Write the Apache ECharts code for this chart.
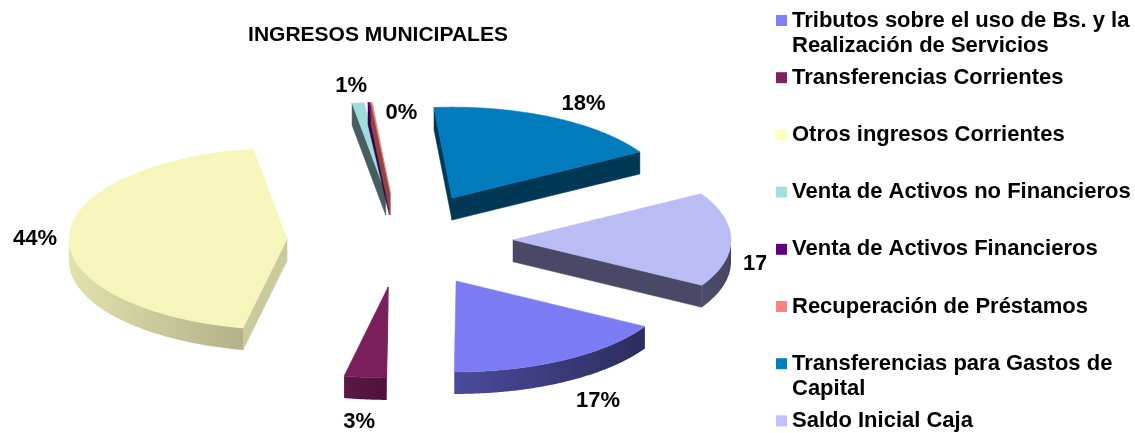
<!DOCTYPE html>
<html>
<head>
<meta charset="utf-8">
<script src="https://cdn.jsdelivr.net/npm/echarts@6/dist/echarts.min.js"></script>
<style>
html,body{margin:0;padding:0;background:#fff;}
#c{width:1135px;height:433px;}
</style>
</head>
<body>
<div id="c"></div>
<script>
// ---------- data ----------
const chartTitle = 'INGRESOS MUNICIPALES';
const categories = [
  'Tributos sobre el uso de Bs. y la Realización de Servicios',
  'Transferencias Corrientes',
  'Otros ingresos Corrientes',
  'Venta de Activos no Financieros',
  'Venta de Activos Financieros',
  'Recuperación de Préstamos',
  'Transferencias para Gastos de Capital',
  'Saldo Inicial Caja'
];
const legendText = [
  'Tributos sobre el uso de Bs. y la\nRealización de Servicios',
  'Transferencias Corrientes',
  'Otros ingresos Corrientes',
  'Venta de Activos no Financieros',
  'Venta de Activos Financieros',
  'Recuperación de Préstamos',
  'Transferencias para Gastos de\nCapital',
  'Saldo Inicial Caja'
];
const values = [16.8, 3.1, 44.3, 0.9, 0.15, 0.1, 17.85, 16.8];

// ---------- style ----------
const colors    = ['#8080FF', '#802060', '#FFFFC0', '#A0E0E0', '#600080', '#FF8080', '#0080C0', '#C0C0FF'];
const topColors = ['#7B7BF4', '#7B1E5C', '#F6F6BC', '#9EDDDD', '#5C007B', '#F57B7B', '#007BBB', '#BCBCF4'];
const sideLight = ['#4B4B9E', '#5C1746', '#E2E2AD', '#4C6666', '#3A004D', '#994D4D', '#003B5A', '#4C4C6E'];
const sideDark  = ['#2C2C5E', '#4E123B', '#B3B18A', '#3F5656', '#30003F', '#803F3F', '#00344F', '#46465F'];

const PIE_CX = 400, PIE_CY = 240, PIE_R = 218;
const RATIO = 91 / 218, DEPTH = 22, EXPLODE = 113;
const FONT_FAMILY = '"Liberation Sans", Arial, sans-serif';
const LABEL_FONT = 'bold 22px ' + FONT_FAMILY;

const total = values.reduce((a, b) => a + b, 0);
const starts = [];
{ let acc = 0; values.forEach(v => { starts.push(acc); acc += v; }); }
const pctText = values.map(v => Math.round(v / total * 100) + '%');

const measureCtx = document.createElement('canvas').getContext('2d');
measureCtx.font = LABEL_FONT;

function hexToRgb(h) { h = h.replace('#', ''); return [0, 2, 4].map(i => parseInt(h.substr(i, 2), 16)); }
function mixHex(a, b) {
  const x = hexToRgb(a), y = hexToRgb(b);
  return 'rgb(' + x.map((v, i) => Math.round((v + y[i]) / 2)).join(',') + ')';
}

let placed = [];

function renderItem(params, api) {
  const idx = params.seriesIndex;
  if (idx === 0) placed = [];
  const cs = params.coordSys;
  const cx = cs.cx, cy = cs.cy, R = cs.r;
  const vs = api.value(1), ve = api.value(2);
  const circ = v => api.coord([1, v]);
  const pm = circ((vs + ve) / 2);
  const ux = (pm[0] - cx) / R, uy = (pm[1] - cy) / R;
  const ox = ux * EXPLODE, oy = uy * EXPLODE;
  const proj = (x, y) => [x + ox, cy + (y + oy - cy) * RATIO];
  const down = p => [p[0], p[1] + DEPTH];
  const apex = proj(cx, cy);
  const n = Math.max(2, Math.ceil((ve - vs) / total * 720));
  const top = [], rel = [], front = [];
  for (let k = 0; k <= n; k++) {
    const v = vs + (ve - vs) * k / n;
    const p = circ(v);
    top.push(proj(p[0], p[1]));
    rel.push([p[0] - cx, p[1] - cy]);
    front.push(p[1] - cy > 0.0001);
  }
  const children = [];
  const wallCol = mixHex(sideLight[idx], sideDark[idx]);
  // radial walls
  if (rel[0][0] < 0) {
    children.push({ type: 'polygon', shape: { points: [apex, top[0], down(top[0]), down(apex)] },
      style: { fill: wallCol, stroke: wallCol, lineWidth: 0.5 } });
  }
  if (rel[n][0] > 0) {
    children.push({ type: 'polygon', shape: { points: [apex, top[n], down(top[n]), down(apex)] },
      style: { fill: wallCol, stroke: wallCol, lineWidth: 0.5 } });
  }
  // outer wall
  let k = 0;
  while (k <= n) {
    if (front[k]) {
      const a = k;
      while (k <= n && front[k]) k++;
      const b = k - 1;
      if (b > a) {
        const seg = top.slice(a, b + 1);
        const pts = seg.concat(seg.slice().reverse().map(down));
        children.push({ type: 'polygon', shape: { points: pts },
          style: { fill: new echarts.graphic.LinearGradient(0, 0, 1, 0, [
            { offset: 0, color: sideLight[idx] }, { offset: 1, color: sideDark[idx] }]) } });
      }
    } else k++;
  }
  // top face
  children.push({ type: 'polygon', shape: { points: [apex].concat(top) },
    style: { fill: topColors[idx], stroke: topColors[idx], lineWidth: 0.5 } });

  // percentage label
  const text = pctText[idx];
  const arcP = proj(pm[0], pm[1]);
  const w = measureCtx.measureText(text).width, h = 22;
  const kx = Math.max(-1, Math.min(1, 2 * ux));
  let lx = arcP[0] + kx * (13 + w / 2);
  let ly = arcP[1] + uy * (9 + h / 2) + DEPTH * Math.max(0, uy)
         + DEPTH * Math.max(0, ux) * (1 - Math.abs(uy)) + 3;
  let skip = false;
  for (let guard = 0; guard < 20; guard++) {
    const hit = placed.find(b => Math.abs(b.x - lx) < (b.w + w) / 2 + 2 && Math.abs(b.y - ly) < h);
    if (!hit) break;
    if (hit.text === text) { skip = true; break; }
    // stagger the crowded label to the right of and below its neighbour
    lx = hit.x + hit.w / 2 + 20 + w / 2;
    ly = hit.y + h * 1.2;
  }
  if (!skip) {
    placed.push({ x: lx, y: ly, w: w, text: text });
    children.push({ type: 'text', z2: 100, style: {
      text: text, x: lx, y: ly, align: 'center', verticalAlign: 'middle',
      font: LABEL_FONT, fill: '#000' } });
  }
  return { type: 'group', children: children };
}

const series = categories.map((name, i) => ({
  type: 'custom',
  name: name,
  coordinateSystem: 'polar',
  renderItem: renderItem,
  itemStyle: { color: colors[i] },
  encode: { radius: 0, angle: [1, 2] },
  data: [[1, starts[i], starts[i] + values[i]]],
  silent: true,
  animation: false
}));

measureCtx.font = 'bold 21px ' + FONT_FAMILY;
const titleW = measureCtx.measureText(chartTitle).width;

const legends = categories.map((name, i) => {
  const twoLines = legendText[i].indexOf('\n') >= 0;
  const c = 20.5 + 57.2 * i;
  const pad = twoLines ? [0, 5, 4, 10] : [4, 5, 14, 10];
  return {
    data: [name],
    selectedMode: false,
    orient: 'vertical',
    left: 766,
    top: c - (twoLines ? 37.5 : 12.5) - pad[0],
    padding: pad,
    backgroundColor: '#fff',
    icon: 'rect',
    itemWidth: 11,
    itemHeight: 11,
    // a leading blank line keeps the icon level with the first line of a wrapped entry
    formatter: () => (twoLines ? '\n' : '') + legendText[i],
    textStyle: {
      fontFamily: FONT_FAMILY, fontWeight: 'bold', fontSize: 22, color: '#000',
      lineHeight: 25
    }
  };
});

const option = {
  backgroundColor: '#fff',
  animation: false,
  title: {
    text: chartTitle,
    left: 378 - titleW / 2,
    top: 25,
    padding: 0,
    textStyle: { fontFamily: FONT_FAMILY, fontWeight: 'bold', fontSize: 21, color: '#000' }
  },
  legend: legends,
  polar: { center: [PIE_CX, PIE_CY], radius: PIE_R },
  angleAxis: {
    type: 'value', min: 0, max: total, startAngle: -30, clockwise: true,
    show: false, axisLine: { show: false }, splitLine: { show: false },
    axisLabel: { show: false }, axisTick: { show: false }
  },
  radiusAxis: {
    type: 'value', min: 0, max: 1, show: false,
    axisLine: { show: false }, splitLine: { show: false },
    axisLabel: { show: false }, axisTick: { show: false }
  },
  series: series
};

const chart = echarts.init(document.getElementById('c'));
chart.setOption(option);
</script>
</body>
</html>
